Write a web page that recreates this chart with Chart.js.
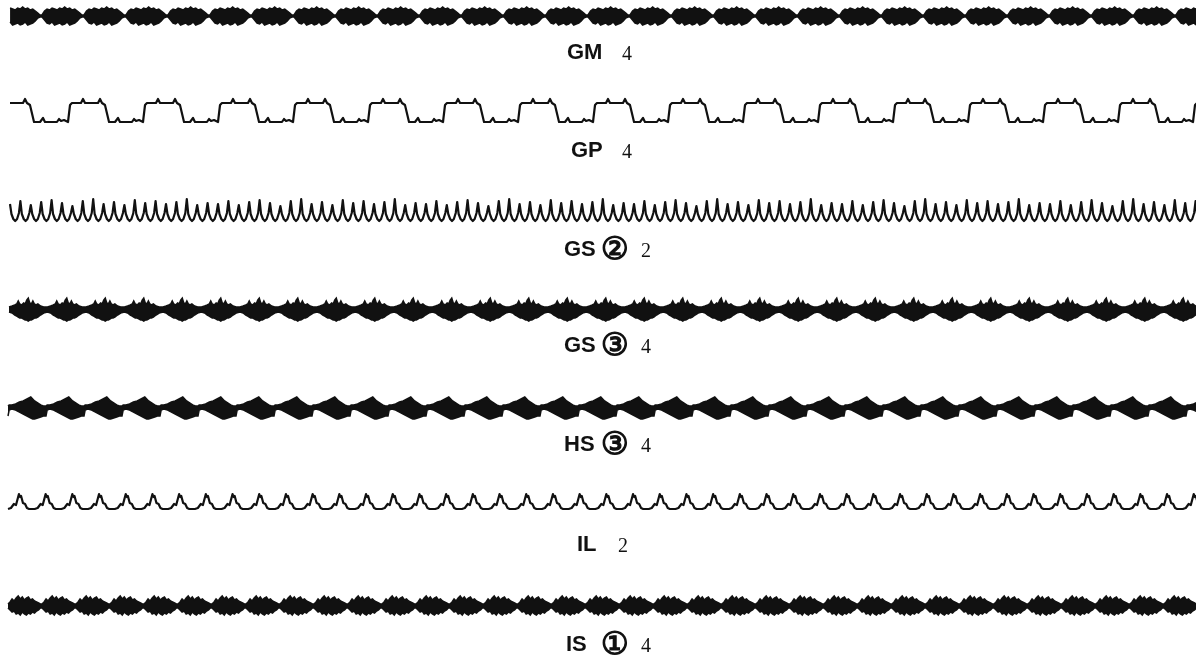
<!DOCTYPE html>
<html>
<head>
<meta charset="utf-8">
<script src="https://cdn.jsdelivr.net/npm/chart.js@4/dist/chart.umd.min.js"></script>
<style>
  html, body { margin: 0; padding: 0; background: #fff; }
  #wrap { width: 1196px; height: 658px; position: relative; }
</style>
</head>
<body>
<div id="wrap"><canvas id="waves"></canvas></div>
<script>
// row names and the small figures printed under each trace
const codes = ['GM', 'GP', 'GS', 'GS', 'HS', 'IL', 'IS'];
const marks = ['', '', '②', '③', '③', '', '①'];
const nums = ['4', '4', '2', '4', '4', '2', '4'];

// GM: dense burst, envelope of one cycle (phase 0..1, amplitude up = +)
const gmPhase = [0, .06, .12, .18, .24, .30, .36, .42, .48, .54, .60, .66, .72, .78, .84, .90, .95, 1];
const gmUpper = [1, 5, 7, 6, 8, 7, 6, 8, 7, 9, 7, 8, 6, 7, 5, 3, 1, 1];
const gmLower = [-1, -4, -7, -8, -6, -9, -8, -7, -9, -8, -6, -9, -8, -7, -5, -2, -1, -1];

// GP: square-ish wave with small ticks, one cycle
const gpPhase = [0, .027, .053, .173, .2, .227, .4, .427, .453, .493, .547, .627, .667, .693, .853, .88, .907, .947];
const gpLevel = [-10, 7, 9, 9, 13, 9, 9, 13, 9, 7, -10, -10, -6, -10, -10, -7, -9, -8];

// GS 2: cusped spikes, peak heights of one group
const gs2Peaks = [7, 10, 6, 9, 11, 8, 5, 10, 12, 7, 9, 6, 11, 8, 10, 7, 9, 12, 6, 8];
const gs2Phase = [0, .14, .32, .5, .68, .86];
const gs2Shape = [null, -3, -8, -10, -8, -2];

// GS 3: burst with spikes on top
const gs3Phase = [0, .08, .15, .2, .24, .28, .33, .38, .42, .46, .5, .54, .58, .62, .66, .7, .75, .82, .9, 1];
const gs3Upper = [3, 4, 5, 6, 9, 6, 5, 7, 6, 10, 12, 7, 6, 9, 6, 5, 6, 4, 3, 3];
const gs3Lower = [-2, -3, -5, -6, -7, -8, -8, -9, -10, -10, -11, -10, -10, -9, -8, -8, -7, -5, -3, -2];

// HS 3: skewed burst
const hsPhase = [0, .03, .1, .2, .3, .4, .5, .55, .6, .65, .7, .78, .86, .93, 1];
const hsUpper = [2, 3, 3, 4, 6, 7, 9, 10, 11, 9, 7, 5, 3, 2, 2];
const hsLower = [-8, -2, -1, -2, -4, -6, -8, -9, -10, -11, -11, -10, -9, -8, -8];

// IL: peaked wave with shoulders
const ilPhase = [0, .11, .22, .3, .37, .41, .45, .49, .56, .64, .71, .79];
const ilLevel = [-7, -6, -2, -3, 4, 8, 5, 6, -1, -2, -6, -7];

// IS 1: irregular burst
const isPhase = [0, .06, .12, .18, .24, .3, .36, .42, .48, .54, .6, .66, .72, .78, .84, .9, .95, 1];
const isUpper = [2, 4, 7, 5, 8, 10, 7, 9, 6, 8, 9, 6, 7, 5, 4, 3, 2, 2];
const isLower = [-2, -4, -6, -5, -8, -7, -9, -6, -8, -9, -7, -8, -6, -7, -5, -4, -2, -2];

// layout of the strip (in canvas units)
const W = 1196, H = 658;
const rows = [
  { center: 16,  labelY: 53,  codeX: 567, markX: 0,   numX: 622, period: 42,   start: 9,  from: 0 },
  { center: 112, labelY: 151, codeX: 571, markX: 0,   numX: 622, period: 75,   start: 10, from: -7 },
  { center: 211, labelY: 250, codeX: 564, markX: 601, numX: 641, period: 10.4, start: 10, from: 10 },
  { center: 310, labelY: 346, codeX: 564, markX: 601, numX: 641, period: 38.5, start: 9,  from: 9 },
  { center: 408, labelY: 445, codeX: 564, markX: 601, numX: 641, period: 38,   start: 8,  from: 8 },
  { center: 502, labelY: 545, codeX: 577, markX: 0,   numX: 618, period: 26.7, start: 8,  from: 8 },
  { center: 606, labelY: 645, codeX: 566, markX: 601, numX: 641, period: 34,   start: 8,  from: 8 }
];

function tile(row, phase, level) {
  const pts = [];
  for (let k = 0; row.from + k * row.period < W + row.period; k++) {
    phase.forEach((p, i) => {
      if (p === 1 && i === phase.length - 1 && phase[0] === 0) return;
      const x = row.from + (k + p) * row.period;
      if (x >= row.start) pts.push({ x: x, y: row.center - level[i] });
    });
  }
  return pts;
}

function spikes(row) {
  const pts = [];
  for (let k = 0; row.from + k * row.period < W + row.period; k++) {
    gs2Phase.forEach((p, i) => {
      const v = i === 0 ? gs2Peaks[k % gs2Peaks.length] : gs2Shape[i];
      pts.push({ x: row.from + (k + p) * row.period, y: row.center - v });
    });
  }
  return pts;
}

const ink = '#111';
const line = (data) => ({ data, borderColor: ink, borderWidth: 2.2, fill: false, borderJoinStyle: 'round' });
const bandTop = (data) => ({ data, borderColor: ink, borderWidth: 1.5, fill: false });
const bandBottom = (data) => ({ data, borderColor: ink, borderWidth: 1.5, fill: '-1', backgroundColor: ink });

const datasets = [
  bandTop(tile(rows[0], gmPhase, gmUpper)),
  bandBottom(tile(rows[0], gmPhase, gmLower)),
  line(tile(rows[1], gpPhase, gpLevel)),
  line(spikes(rows[2])),
  bandTop(tile(rows[3], gs3Phase, gs3Upper)),
  bandBottom(tile(rows[3], gs3Phase, gs3Lower)),
  bandTop(tile(rows[4], hsPhase, hsUpper)),
  bandBottom(tile(rows[4], hsPhase, hsLower)),
  line(tile(rows[5], ilPhase, ilLevel)),
  bandTop(tile(rows[6], isPhase, isUpper)),
  bandBottom(tile(rows[6], isPhase, isLower))
];

const rowLabels = {
  id: 'rowLabels',
  afterDraw(chart) {
    const ctx = chart.ctx;
    const xs = chart.scales.x, ys = chart.scales.y;
    ctx.save();
    ctx.fillStyle = ink;
    ctx.strokeStyle = ink;
    ctx.textBaseline = 'middle';
    rows.forEach((r, i) => {
      const y = ys.getPixelForValue(r.labelY);
      ctx.font = 'bold 22px "Liberation Sans"';
      ctx.fillText(codes[i], xs.getPixelForValue(r.codeX), y);
      if (marks[i]) {
        // circled digit, thickened a little like the printed one
        ctx.font = '31px "DejaVu Sans"';
        ctx.lineWidth = 1.3;
        ctx.fillText(marks[i], xs.getPixelForValue(r.markX), y + 1);
        ctx.strokeText(marks[i], xs.getPixelForValue(r.markX), y + 1);
      }
      ctx.font = '20px "Liberation Serif"';
      ctx.fillText(nums[i], xs.getPixelForValue(r.numX), y + 2);
    });
    ctx.restore();
  }
};

new Chart(document.getElementById('waves'), {
  type: 'line',
  data: { datasets },
  options: {
    responsive: true,
    maintainAspectRatio: false,
    animation: false,
    layout: { padding: 0 },
    elements: { point: { radius: 0 }, line: { tension: 0 } },
    scales: {
      x: { type: 'linear', min: 0, max: W, display: false },
      y: { type: 'linear', min: 0, max: H, reverse: true, display: false }
    },
    plugins: { legend: { display: false }, tooltip: { enabled: false } }
  },
  plugins: [rowLabels]
});
</script>
</body>
</html>
